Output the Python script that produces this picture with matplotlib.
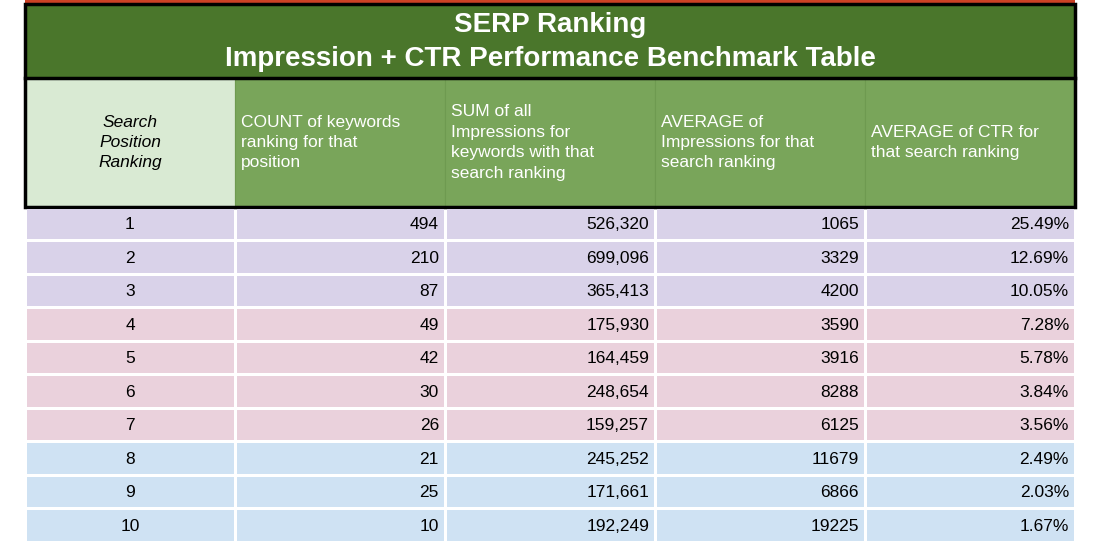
import matplotlib
matplotlib.use("Agg")
import matplotlib.pyplot as plt
from matplotlib.patches import Rectangle

positions = [1, 2, 3, 4, 5, 6, 7, 8, 9, 10]
counts = [494, 210, 87, 49, 42, 30, 26, 21, 25, 10]
sum_impr = [526320, 699096, 365413, 175930, 164459, 248654, 159257, 245252, 171661, 192249]
avg_impr = [1065, 3329, 4200, 3590, 3916, 8288, 6125, 11679, 6866, 19225]
avg_ctr = [25.49, 12.69, 10.05, 7.28, 5.78, 3.84, 3.56, 2.49, 2.03, 1.67]
headers = ["Search\nPosition\nRanking",
           "COUNT of keywords\nranking for that\nposition",
           "SUM of all\nImpressions for\nkeywords with that\nsearch ranking",
           "AVERAGE of\nImpressions for that\nsearch ranking",
           "AVERAGE of CTR for\nthat search ranking"]
title = "SERP Ranking\nImpression + CTR Performance Benchmark Table"
row_colors = ["#d9d2e9"] * 3 + ["#ead1dc"] * 4 + ["#cfe2f3"] * 3

FONT = "Liberation Sans"
fig = plt.figure(figsize=(11.02, 5.42), dpi=100)
ax = fig.add_axes([0, 0, 1, 1])
ax.set_xlim(0, 1102)
ax.set_ylim(542, 0)
ax.axis("off")

cols = [25, 235, 445, 655, 865, 1075]
# red line
ax.add_patch(Rectangle((25, 0), 1050, 4, color="#cc4125", lw=0))
# title
ax.add_patch(Rectangle((25, 4), 1050, 74, color="#4a762b", lw=0))
ax.text(550, 42, title, ha="center", va="center", color="white",
        fontsize=20, fontweight="bold", family=FONT, linespacing=1.35)
# header
hy0, hy1 = 78, 207
for i in range(5):
    c = "#d9ead3" if i == 0 else "#79a55a"
    ax.add_patch(Rectangle((cols[i], hy0), cols[i + 1] - cols[i], hy1 - hy0,
                           facecolor=c, edgecolor="#6e9a50", lw=0.8))
    if i == 0:
        ax.text((cols[0] + cols[1]) / 2, (hy0 + hy1) / 2, headers[i], ha="center",
                va="center", fontsize=12.5, style="italic", family=FONT, linespacing=1.45)
    else:
        ax.text(cols[i] + 6, (hy0 + hy1) / 2, headers[i], ha="left", va="center",
                color="white", fontsize=12.5, family=FONT, linespacing=1.45)
ax.add_patch(Rectangle((25, 4), 1050, hy1 - 4, fill=False, edgecolor="black", lw=2.5))
ax.plot([25, 1075], [78, 78], color="black", lw=2.5)

# data rows
rh = 33.5
for r in range(len(positions)):
    y0 = hy1 + r * rh
    vals = [str(positions[r]), str(counts[r]), f"{sum_impr[r]:,}",
            str(avg_impr[r]), f"{avg_ctr[r]:.2f}%"]
    for i in range(5):
        ax.add_patch(Rectangle((cols[i] + 1.5, y0 + 1.5), cols[i + 1] - cols[i] - 3, rh - 3,
                               color=row_colors[r], lw=0))
        if i == 0:
            ax.text((cols[0] + cols[1]) / 2, y0 + rh / 2 + 1, vals[i], ha="center",
                    va="center", fontsize=12.5, family=FONT)
        else:
            ax.text(cols[i + 1] - 6, y0 + rh / 2 + 1, vals[i], ha="right",
                    va="center", fontsize=12.5, family=FONT)

fig.savefig("out.png", dpi=100)
